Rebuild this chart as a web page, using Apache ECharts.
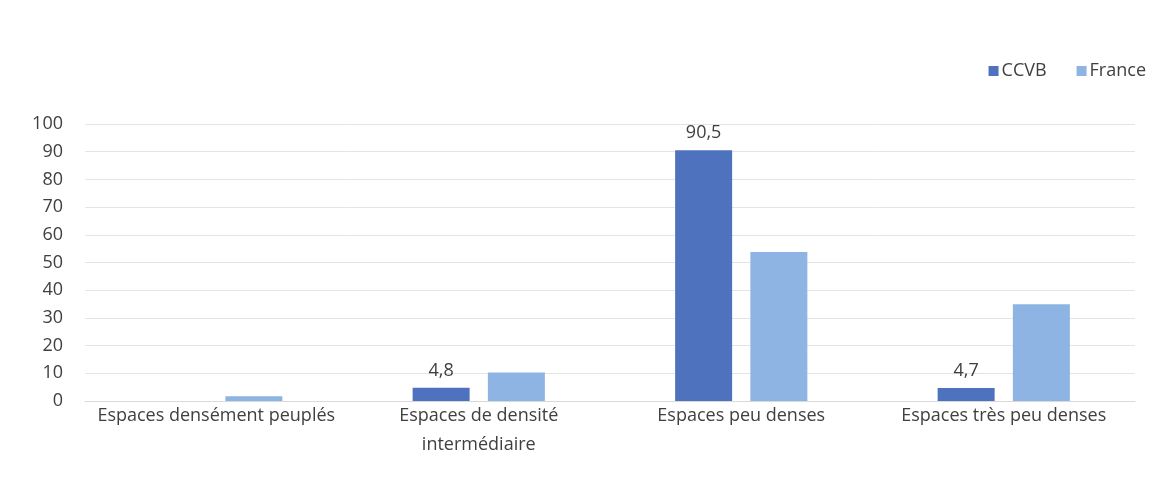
<!DOCTYPE html>
<html>
<head>
<meta charset="utf-8">
<script src="https://cdn.jsdelivr.net/npm/echarts@6/dist/echarts.min.js"></script>
<style>
  html, body { margin: 0; padding: 0; background: #fff; }
  #chart { width: 1153px; height: 479px; }
</style>
</head>
<body>
<div id="chart"></div>
<script>
// données
const categories = ['Espaces densément peuplés', 'Espaces de densité\nintermédiaire', 'Espaces peu denses', 'Espaces très peu denses'];
const ccvb = [0, 4.8, 90.5, 4.7];
const france = [1.7, 10.3, 53.8, 34.9];
const yTicks = { min: 0, max: 100, interval: 10 };

const chart = echarts.init(document.getElementById('chart'));
const font = '"Open Sans", "Liberation Sans", sans-serif';

chart.setOption({
  animation: false,
  textStyle: { fontFamily: font },
  legend: {
    right: 2,
    top: 57,
    itemWidth: 10,
    itemHeight: 10,
    itemGap: 30,
    icon: 'rect',
    textStyle: { color: '#404040', fontSize: 18, fontFamily: font, padding: [0, 0, 0, -2] },
    data: ['CCVB', 'France']
  },
  grid: { left: 85, right: 18, top: 124, bottom: 78 },
  xAxis: {
    type: 'category',
    data: categories,
    axisLine: { lineStyle: { color: '#d9d9d9' } },
    axisTick: { show: false },
    axisLabel: { color: '#404040', fontSize: 18, interval: 0, margin: 0, lineHeight: 29 }
  },
  yAxis: {
    type: 'value',
    min: yTicks.min,
    max: yTicks.max,
    interval: yTicks.interval,
    axisLine: { show: false },
    axisTick: { show: false },
    axisLabel: { color: '#404040', fontSize: 18, margin: 22 },
    splitLine: { lineStyle: { color: '#e4e4e4' } }
  },
  series: [
    {
      name: 'CCVB',
      type: 'bar',
      data: ccvb,
      barWidth: 57,
      barGap: '32%',
      itemStyle: { color: '#4f72be' },
      label: {
        show: true,
        position: 'top',
        distance: 8,
        color: '#404040',
        fontSize: 18,
        formatter: p => p.value ? String(p.value).replace('.', ',') : ''
      }
    },
    {
      name: 'France',
      type: 'bar',
      data: france,
      barWidth: 57,
      itemStyle: { color: '#8db4e2' }
    }
  ]
});
</script>
</body>
</html>
